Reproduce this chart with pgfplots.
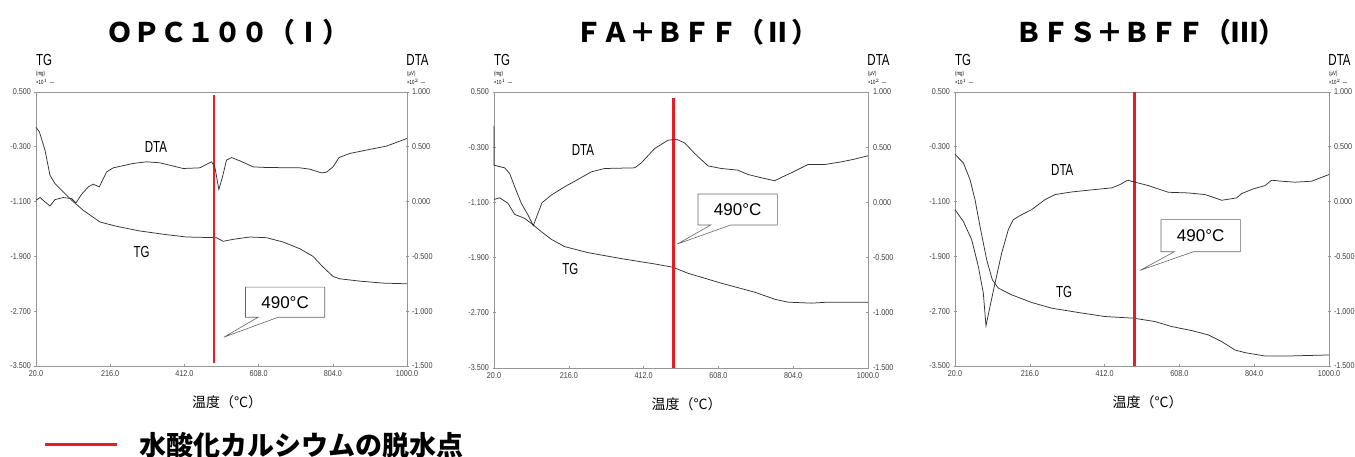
\documentclass[border=0pt]{standalone}
\usepackage{pgfplots}
\pgfplotsset{compat=1.18}
\usepackage{fontspec}
\setmainfont{Liberation Sans}
\newfontfamily\cjk{Noto Sans CJK JP}
\newfontfamily\narrow[FakeStretch=0.72]{Liberation Sans}
\newfontfamily\semi[FakeStretch=0.85]{Liberation Sans}
\definecolor{curve}{RGB}{50,50,50}
\definecolor{frame}{RGB}{150,150,150}
\definecolor{redline}{RGB}{228,30,36}
\newcommand\tickfont{\semi\fontsize{8.5}{9}\selectfont}
\newcommand\curvelab{\narrow\fontsize{16}{16}\selectfont}
\newcommand\unitfont{\narrow\fontsize{6}{6}\selectfont}
\tikzset{callout/.style={fill=white, draw=black!60, line width=0.6pt}}
\pgfplotsset{
  base/.style={scale only axis, xmin=20, xmax=1000, clip=false,
    axis line style={frame, line width=0.8pt},
    tick style={frame, line width=0.6pt}, major tick length=3pt,
    ticklabel style={font=\tickfont, text=black!75},
    /pgf/number format/assume math mode=true},
  tgaxis/.style={base, ymin=-3.5, ymax=0.5,
    xtick={20,216,412,608,804,1000}, xtick pos=bottom,
    ytick={0.5,-0.3,-1.1,-1.9,-2.7,-3.5}, ytick pos=left,
    xticklabel style={/pgf/number format/.cd, fixed, fixed zerofill, precision=1, 1000 sep={}},
    yticklabel style={/pgf/number format/.cd, fixed, fixed zerofill, precision=3},
    tick align=center},
  dtaaxis/.style={base, ymin=-1.5, ymax=1.0, axis x line=none, axis y line*=right,
    ytick={1,0.5,0,-0.5,-1,-1.5}, tick align=center,
    yticklabel style={/pgf/number format/.cd, fixed, fixed zerofill, precision=3}},
  crv/.style={curve, line width=0.75pt},
  rl/.style={redline, line width=2.4pt},
  toplabels/.style={execute at end axis={
    \node[font=\curvelab, anchor=south west, inner sep=0pt] at (rel axis cs:0,1.095) {TG};
    \node[font=\unitfont, anchor=south west, inner sep=0pt] at (rel axis cs:0,1.055) {(mg)};
    \node[font=\unitfont, anchor=south west, inner sep=0pt] at (rel axis cs:0,1.026) {×10$^{1}$\ \ —};
    \node[font=\curvelab, anchor=south west, inner sep=0pt] at (rel axis cs:0.998,1.095) {DTA};
    \node[font=\unitfont, anchor=south west, inner sep=0pt] at (rel axis cs:1.0,1.055) {(μV)};
    \node[font=\unitfont, anchor=south west, inner sep=0pt] at (rel axis cs:1.0,1.026) {×10$^{2}$\ \ —};
    \node[font=\cjk\fontsize{14}{14}\selectfont] at (rel axis cs:0.515,-0.131) {温度（°C）};
  }},
}
\begin{document}
\begin{tikzpicture}[x=1pt,y=1pt]
\path[use as bounding box] (0,0) rectangle (1355,457);
% ---------- titles ----------
\node[font=\cjk\bfseries\fontsize{27}{27}\selectfont] at (228,425) {ＯＰＣ１００（Ⅰ）};
\node[font=\cjk\bfseries\fontsize{27}{27}\selectfont] at (697,425) {ＦＡ＋ＢＦＦ（Ⅱ）};
\node[font=\cjk\bfseries\fontsize{27}{27}\selectfont] at (1150,425) {ＢＦＳ＋ＢＦＦ（Ⅲ）};
% ---------- panel I ----------
\begin{axis}[tgaxis, toplabels, at={(36pt,91pt)}, anchor=south west, width=371pt, height=274pt]
\addplot[crv] coordinates {(20,-0.017)(28.8,-0.080)(43.8,-0.349)(56.9,-0.715)(70.1,-0.837)(92.1,-0.959)(114.1,-1.080)(144.9,-1.227)(188.9,-1.398)(232.9,-1.461)(294.5,-1.529)(364.8,-1.583)(417.6,-1.617)(496.8,-1.627)(514.4,-1.680)(540.8,-1.651)(584.8,-1.617)(628.7,-1.627)(672.7,-1.690)(716.7,-1.788)(751.9,-1.900)(778.3,-2.056)(804.7,-2.193)(822.3,-2.227)(875.1,-2.261)(936.7,-2.290)(1000,-2.300)};
\addplot[rl] coordinates {(490,0.456)(490,-3.461)};
\draw[callout] (axis cs:573.3,-2.788) -- (axis cs:606.8,-2.788) -- (axis cs:516.1,-3.08) -- (axis cs:659.5,-2.788) -- (axis cs:782.7,-2.788) -- (axis cs:782.7,-2.349) -- (axis cs:573.3,-2.349) -- cycle;
\node[font=\fontsize{17}{17}\selectfont] at (axis cs:678,-2.568) {490°C};
\node[font=\curvelab] at (axis cs:336.7,-0.30) {DTA};
\node[font=\curvelab] at (axis cs:298.9,-1.837) {TG};
\end{axis}
\begin{axis}[dtaaxis, at={(36pt,91pt)}, anchor=south west, width=371pt, height=274pt]
\addplot[crv] coordinates {(20,0.012)(30.6,0.037)(43.8,-0.003)(56.9,-0.040)(70.1,0.018)(92.1,0.037)(114.1,0.027)(125.6,-0.012)(140.5,0.067)(158.1,0.134)(171.3,0.159)(187.1,0.134)(206.5,0.271)(224.1,0.308)(276.9,0.348)(312.1,0.363)(347.2,0.354)(408.8,0.302)(452.8,0.308)(483.6,0.363)(492.4,0.317)(503.0,0.110)(512.6,0.226)(523.2,0.378)(536.4,0.402)(558.4,0.372)(593.6,0.317)(628.7,0.311)(716.7,0.308)(743.1,0.296)(773.9,0.262)(787.1,0.268)(804.7,0.317)(820.5,0.402)(848.7,0.439)(892.7,0.470)(945.5,0.506)(1000,0.576)};
\end{axis}
% ---------- panel II ----------
\begin{axis}[tgaxis, toplabels, at={(494pt,89pt)}, anchor=south west, width=374pt, height=276pt]
\addplot[crv] coordinates {(20,-1.057)(34.8,-1.033)(56.7,-1.114)(74.2,-1.274)(100.4,-1.331)(123.1,-1.428)(144.0,-1.524)(170.2,-1.635)(205.2,-1.741)(266.3,-1.828)(353.6,-1.915)(441.0,-1.992)(489.0,-2.040)(528.3,-2.127)(615.7,-2.271)(703.0,-2.401)(755.4,-2.503)(790.3,-2.546)(851.5,-2.560)(895.1,-2.546)(1000,-2.546)};
\addplot[rl] coordinates {(490,0.418)(490,-3.5)};
\draw[callout] (axis cs:554.5,-1.428) -- (axis cs:587.7,-1.428) -- (axis cs:500.4,-1.703) -- (axis cs:640.1,-1.428) -- (axis cs:762.4,-1.428) -- (axis cs:762.4,-0.979) -- (axis cs:554.5,-0.979) -- cycle;
\node[font=\fontsize{17}{17}\selectfont] at (axis cs:658.5,-1.20) {490°C};
\node[font=\curvelab] at (axis cs:253.2,-0.343) {DTA};
\node[font=\curvelab] at (axis cs:220.0,-2.069) {TG};
\end{axis}
\begin{axis}[dtaaxis, at={(494pt,89pt)}, anchor=south west, width=374pt, height=276pt]
\addplot[crv] coordinates {(20,0.690)(20,0.337)(47.9,0.313)(61.0,0.262)(74.2,0.142)(91.6,-0.009)(109.1,-0.114)(123.1,-0.211)(133.5,-0.114)(145.8,-0.003)(170.2,0.066)(205.2,0.142)(240.1,0.208)(275.0,0.277)(310.0,0.307)(388.6,0.313)(406.0,0.358)(441.0,0.488)(475.9,0.563)(497.7,0.572)(519.6,0.539)(545.8,0.443)(580.7,0.331)(615.7,0.307)(659.3,0.292)(685.5,0.253)(720.5,0.223)(755.4,0.196)(772.9,0.226)(799.1,0.268)(842.8,0.343)(886.4,0.343)(930.1,0.367)(965.0,0.392)(1000,0.422)};
\end{axis}
% ---------- panel III ----------
\begin{axis}[tgaxis, toplabels, at={(955pt,91pt)}, anchor=south west, width=374pt, height=274pt]
\addplot[crv] coordinates {(20,-0.412)(41.8,-0.534)(59.3,-0.778)(72.4,-1.071)(85.5,-1.461)(103.0,-1.949)(117.8,-2.241)(133.5,-2.363)(168.5,-2.461)(220.9,-2.573)(273.3,-2.656)(343.2,-2.719)(413.0,-2.778)(488.1,-2.802)(544.0,-2.851)(587.7,-2.924)(640.1,-2.983)(683.8,-3.046)(718.7,-3.144)(753.7,-3.266)(779.9,-3.305)(832.3,-3.354)(893.4,-3.354)(1000,-3.339)};
\addplot[rl] coordinates {(490,0.5)(490,-3.5)};
\draw[callout] (axis cs:559.8,-1.832) -- (axis cs:594.7,-1.832) -- (axis cs:504.7,-2.105) -- (axis cs:644.5,-1.832) -- (axis cs:767.6,-1.832) -- (axis cs:767.6,-1.363) -- (axis cs:559.8,-1.363) -- cycle;
\node[font=\fontsize{17}{17}\selectfont] at (axis cs:663.7,-1.60) {490°C};
\node[font=\curvelab] at (axis cs:301.2,-0.632) {DTA};
\node[font=\curvelab] at (axis cs:305.6,-2.422) {TG};
\end{axis}
\begin{axis}[dtaaxis, at={(955pt,91pt)}, anchor=south west, width=374pt, height=274pt]
\addplot[crv] coordinates {(20,-0.073)(41.8,-0.180)(63.7,-0.348)(81.1,-0.591)(94.2,-0.835)(101.2,-1.134)(111.7,-0.957)(124.8,-0.744)(142.3,-0.470)(159.7,-0.256)(172.8,-0.165)(194.7,-0.119)(220.9,-0.073)(255.8,0.018)(282.0,0.064)(325.7,0.088)(378.1,0.107)(430.5,0.125)(452.3,0.155)(472.4,0.195)(491.6,0.177)(526.6,0.146)(579.0,0.085)(631.4,0.079)(675.1,0.064)(701.3,0.034)(718.7,0.012)(740.6,0.024)(758.0,0.034)(771.1,0.073)(801.7,0.116)(832.3,0.146)(849.7,0.195)(875.9,0.186)(910.9,0.177)(954.5,0.186)(1000,0.247)};
\end{axis}
% ---------- legend ----------
\draw[redline, line width=3pt] (45,12) -- (117,12);
\node[font=\cjk\bfseries\fontsize{27}{27}\selectfont, anchor=west] at (136,12) {水酸化カルシウムの脱水点};
\end{tikzpicture}
\end{document}
